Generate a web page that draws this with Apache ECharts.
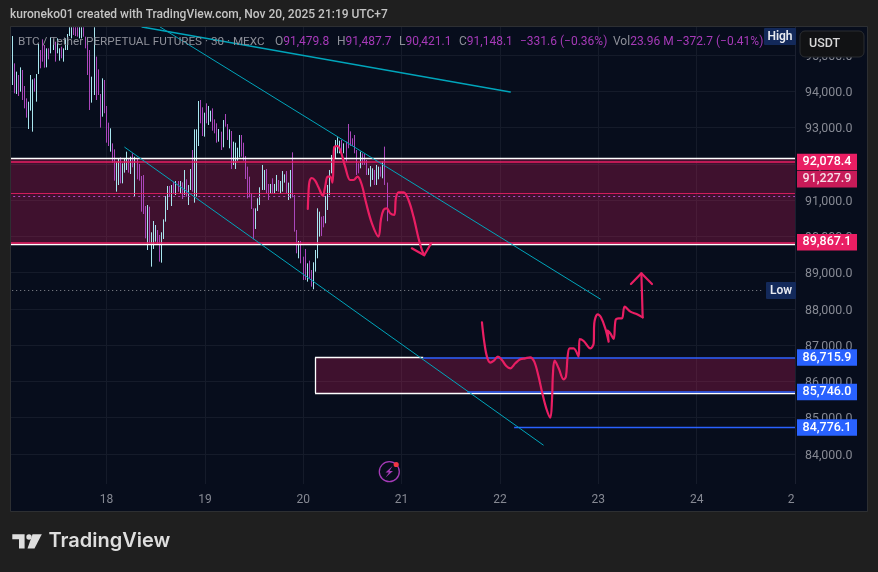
<!DOCTYPE html>
<html><head><meta charset="utf-8">
<style>html,body{margin:0;padding:0;background:#1f1f1f}#c{width:878px;height:572px}</style>
<script src="https://cdn.jsdelivr.net/npm/echarts@6/dist/echarts.min.js"></script>
</head><body><div id="c"></div>
<script>
// 30-minute bars, first bar one half hour into day 17
const firstBarDay = 17 + 1 / 48;
const barsPerDay = 48;
const highs = [94455,95530,94777,94547,94455,94666,94593,94151,93811,93719,94455,94335,94363,94482,95310,95144,95439,95282,95190,95190,95494,95439,95374,95466,95190,95236,95190,95466,95586,95770,95770,95770,95770,95770,95770,95770,95770,95512,95420,95144,94409,95770,94961,94611,93931,94363,94317,93600,93140,92984,92570,92404,92064,92156,92184,92018,92156,92340,92156,92202,92294,92202,92156,92000,91669,91696,90841,90869,90823,90115,90427,90317,90179,90041,90115,90473,91117,91393,91393,91420,91512,91531,91531,91531,91494,91834,91577,91420,91862,92386,92956,92956,93738,93765,93563,93416,93673,93600,93471,93535,93232,93122,92965,92892,93213,93379,93103,92956,92910,92616,92588,92450,92800,92800,92588,92220,91927,91651,91191,90777,90777,91053,91357,91973,91835,91862,91449,91449,91605,91449,91697,91559,91531,91807,91715,91807,91486,91835,92322,91145,90180,89876,89876,89444,89656,89260,89334,89076,89288,89628,90777,90686,90548,90566,91118,91421,91835,92249,92433,92662,92736,92644,92662,92570,92616,93104,92900,92708,92800,92387,92019,92341,92295,92276,92111,91881,91945,91881,91835,91973,91927,91927,92065,92479,91487.7];
const lows = [93692,94179,93949,93931,93876,93995,93765,93535,93278,92965,93471,92892,93995,93719,94482,94639,94823,94657,94666,94887,95052,95144,94823,95052,94850,94915,94823,95144,95144,95530,95466,95558,95530,95512,95466,95466,95512,95190,94455,93489,93692,93903,93765,93903,93002,93305,93400,92588,92496,92340,92036,91540,91237,91420,91466,91466,91761,91834,91761,91724,91908,91117,91577,91540,90685,90620,89949,89627,89811,89168,89655,89857,89765,89306,89278,89931,90409,90731,91099,90841,91190,91145,91236,91190,91034,91145,91099,90869,91282,91236,90933,91099,92496,93122,92772,92754,93122,93075,93167,92919,92846,92588,92616,92386,92460,93029,92662,92432,91862,91972,91862,92092,92184,92202,92092,91586,91053,91081,90759,89922,90207,90704,90869,91283,91283,91191,91007,91191,91191,91191,91256,91237,91191,91237,91486,91191,91007,91053,91081,90134,89536,89398,89260,88801,88801,88755,88847,88617,88543,89030,89398,89996,90014,90253,90364,90731,91145,91743,91743,92157,92295,92295,92295,92295,92065,92433,92500,92497,92295,91697,91743,91881,91973,91973,91697,91697,91375,91559,91421,91421,91577,91651,91605,91421,90421.1];
// 1 = rising bar (cyan), 0 = falling bar (purple)
const rising = [0,1,0,1,0,1,0,0,0,1,1,1,0,1,1,0,0,0,1,0,1,1,0,1,1,0,1,1,1,1,1,0,0,0,1,1,0,0,0,0,1,1,0,0,0,1,0,0,0,1,0,0,1,1,0,1,1,1,0,1,0,1,0,0,0,0,0,1,0,1,1,1,0,0,1,1,1,1,0,1,0,1,0,1,0,1,0,1,1,0,1,1,1,0,0,1,0,1,1,0,0,0,1,0,1,0,0,1,0,1,1,1,1,0,0,0,0,0,0,0,1,1,1,1,1,0,0,1,0,1,1,0,1,1,1,0,1,1,0,0,0,1,0,0,0,1,0,0,1,1,1,1,0,0,1,1,1,1,1,1,1,1,0,1,0,0,0,0,0,0,0,1,0,0,0,1,1,1,0,1,1,0,1,0,0];

// Horizontal levels
const zone1Top = 92157, zone1Bottom = 89785;
const zone2Top = 86662, zone2Bottom = 85683, zone2Start = 20.12;
const pinkLevels = [92055, 91192, 89840];
const pinkTags = ['92,078.4', '91,227.9', '89,867.1'];
const blueLevels = [86662, 85710, 84731];
const blueStarts = [21.22, 21.667, 22.144];
const blueTags = ['86,715.9', '85,746.0', '84,776.1'];
const lastPriceLevel = 91115;
const lowLevel = 88516;

// Trend lines [day, price]
const trendA = [[18.361, 95779], [22.105, 93986]];
const trendB = [[18.544, 95779], [23.02, 88276]];
const trendC = [[18.185, 92461], [22.44, 84248]];

// Hand-drawn paths [day, price]
const sketch1 = [[20.0465,90759],[20.053,91191],[20.063,91513],[20.087,91614],[20.121,91541],[20.155,91357],[20.199,91127],[20.223,91375],[20.247,91651],[20.274,91651],[20.297,91486],[20.308,92111],[20.314,92460],[20.348,92497],[20.382,92341],[20.426,91927],[20.477,91559],[20.511,91559],[20.552,91651],[20.596,91421],[20.64,90915],[20.698,90364],[20.765,89996],[20.789,90456],[20.816,90732],[20.85,90777],[20.884,90640],[20.925,90594],[20.942,91053],[20.969,91219],[21.02,91219],[21.07,91007],[21.121,90548],[21.172,89950],[21.206,89628],[21.23,89490]];
const arrow1 = [[21.104,89674],[21.23,89481],[21.301,89812]];
const sketch2 = [[21.817,87633],[21.84,87099],[21.868,86685],[21.901,86520],[21.935,86566],[21.979,86685],[22.02,86593],[22.064,86428],[22.105,86364],[22.156,86502],[22.207,86612],[22.257,86639],[22.308,86667],[22.349,86548],[22.393,86134],[22.427,85720],[22.471,85260],[22.512,85003],[22.529,85490],[22.539,86226],[22.556,86575],[22.597,86364],[22.647,86060],[22.671,86134],[22.688,86685],[22.709,86915],[22.749,86915],[22.8,86685],[22.81,87173],[22.851,87118],[22.919,86915],[22.953,87053],[22.959,87605],[22.993,87853],[23.027,87770],[23.071,87467],[23.105,87099],[23.095,87403],[23.122,87329],[23.156,87173],[23.176,87697],[23.207,87743],[23.241,87743],[23.268,88065],[23.326,87927],[23.394,87853],[23.451,87770]];
const shaft2 = [[23.451,87770],[23.444,88433],[23.438,88984]];
const arrow2 = [[23.332,88690],[23.438,88984],[23.546,88690]];

const dayTicks = [18, 19, 20, 21, 22, 23, 24, 25];
const titleText = 'kuroneko01 created with TradingView.com, Nov 20, 2025 21:19 UTC+7';
const symbolText = 'BTC / Tether PERPETUAL FUTURES · 30 · MEXC';
const ohlcKeys = ['O', 'H', 'L', 'C'];
const ohlcValues = ['91,479.8', '91,487.7', '90,421.1', '91,148.1'];
const changeText = '−331.6 (−0.36%)';
const volText = '23.96 M';
const volChangeText = '−372.7 (−0.41%)';

const PINK = '#e91e63', BLUE = '#2962ff', CYAN = '#00a5bb', UP = '#a8e6ef', DOWN = '#ab47bc';
const PANE = '#070d1c', PAGE = '#1f1f1f', GRIDC = '#151b2a', AXISC = '#868993';
const FONT = 'Roboto, sans-serif';

const bars = highs.map((h, i) => {
  const d = firstBarDay + i / barsPerDay, l = lows[i];
  return rising[i] ? [d, l, h, l, h] : [d, h, l, l, h];
});

function tagLabel(text, color, dy) {
  return { show: true, position: 'end', distance: 2, formatter: text, color: '#fff',
    backgroundColor: color, fontFamily: FONT, fontSize: 12.5, fontWeight: 500,
    width: 52, height: 12.5, lineHeight: 12.5, padding: [2, 4], align: 'center', offset: [30, dy || 0] };
}
const noLabel = { show: false };
const hline = (v, x0, x1, style, label) => [
  { coord: [x0, v], lineStyle: style, label: label || noLabel }, { coord: [x1, v] }];

const levelLines = [
  hline(zone1Top, 17, 25, { color: '#fff', width: 1.3, type: 'solid' }),
  hline(zone1Bottom, 17, 25, { color: '#fff', width: 1.3, type: 'solid' }),
  hline(pinkLevels[0], 17, 25, { color: PINK, width: 1.5, type: 'solid' }, tagLabel(pinkTags[0], PINK)),
  hline(pinkLevels[1], 17, 25, { color: PINK, width: 1, type: 'solid', opacity: .85 }, tagLabel(pinkTags[1], PINK, -14)),
  hline(pinkLevels[2], 17, 25, { color: PINK, width: 1.5, type: 'solid' }, tagLabel(pinkTags[2], PINK)),
  hline(lastPriceLevel, 17, 25, { color: DOWN, width: 1, type: [2, 3] }),
  hline(lowLevel, 17, 24.68, { color: '#8a8d94', width: 1, type: [1, 3] }),
  hline(zone2Top, zone2Start, blueStarts[0], { color: '#fff', width: 1.3, type: 'solid' }),
  hline(zone2Bottom, zone2Start, 25, { color: '#fff', width: 1.3, type: 'solid' }),
  hline(blueLevels[0], blueStarts[0], 25, { color: BLUE, width: 1.5, type: 'solid' }, tagLabel(blueTags[0], BLUE)),
  hline(blueLevels[1], blueStarts[1], 25, { color: BLUE, width: 1.5, type: 'solid' }, tagLabel(blueTags[1], BLUE)),
  hline(blueLevels[2], blueStarts[2], 25, { color: BLUE, width: 1.3, type: 'solid' }, tagLabel(blueTags[2], BLUE)),
  [ { coord: [zone2Start, zone2Top], lineStyle: { color: '#fff', width: 1.3, type: 'solid' }, label: noLabel }, { coord: [zone2Start, zone2Bottom] } ]
];

const lineSeries = (data, color, width, smooth, z) => ({
  type: 'line', data, showSymbol: false, symbol: 'none', smooth: smooth ? 0.35 : false,
  lineStyle: { color, width, cap: 'round', join: 'round' }, silent: true, z, clip: true, animation: false
});

const legendRich = { s: { fill: '#8e9099', fontSize: 11.7, fontFamily: FONT }, g: { fill: '#8e9099', fontSize: 12, fontFamily: FONT }, p: { fill: '#a63ab8', fontSize: 12, fontFamily: FONT } };
const legendY = 36;
const legendText = (x, str) => ({ type: 'text', z: 60, silent: true, x, y: legendY, style: { text: str, rich: legendRich, fontSize: 12, fontFamily: FONT } });
const ohlcX = [275, 337, 399, 459];

const panelGraphics = [
  { type: 'rect', z: -10, silent: true, shape: { x: 11, y: 27, width: 856, height: 484 }, style: { fill: PANE } },
  { type: 'rect', z: 40, silent: true, shape: { x: 0, y: 20, width: 10, height: 500 }, style: { fill: PAGE } },
  { type: 'rect', z: 40, silent: true, shape: { x: 10, y: 484, width: 786, height: 8 }, style: { fill: PANE } },
  { type: 'rect', z: 41, silent: true, shape: { x: 10.5, y: 26.5, width: 857, height: 485 }, style: { fill: 'none', stroke: '#2d2f32', lineWidth: 1 } },
  { type: 'text', z: 60, silent: true, x: 10, y: 9, style: { text: titleText, fill: '#c4c4c4', font: '500 12px ' + FONT } },
  legendText(18, '{s|' + symbolText + '}'),
  ...ohlcKeys.map((k, i) => legendText(ohlcX[i], '{g|' + k + '}{p|' + ohlcValues[i] + '}')),
  legendText(520, '{p|' + changeText + '}'),
  legendText(613, '{g|Vol}{p|' + volText + '}'),
  legendText(676, '{p|' + volChangeText + '}'),
  { type: 'rect', z: 60, silent: true, shape: { x: 764, y: 28, width: 32, height: 17, r: 1 }, style: { fill: '#13295a' } },
  { type: 'text', z: 61, silent: true, x: 780, y: 36.5, style: { text: 'High', fill: '#e8eaf0', font: '600 12px ' + FONT, align: 'center', verticalAlign: 'middle' } },
  { type: 'rect', z: 60, silent: true, shape: { x: 766, y: 282, width: 30, height: 17, r: 1 }, style: { fill: '#13295a' } },
  { type: 'text', z: 61, silent: true, x: 781, y: 290.5, style: { text: 'Low', fill: '#e8eaf0', font: '600 12px ' + FONT, align: 'center', verticalAlign: 'middle' } },
  { type: 'rect', z: 60, silent: true, shape: { x: 800, y: 31, width: 64, height: 26, r: 5 }, style: { fill: '#111214', stroke: '#2b2d31', lineWidth: 1 } },
  { type: 'text', z: 61, silent: true, x: 809, y: 44, style: { text: 'USDT', fill: '#d8d8d8', font: '500 12.5px ' + FONT, verticalAlign: 'middle' } },
  { type: 'circle', z: 60, silent: true, shape: { cx: 389.3, cy: 471.7, r: 10 }, style: { fill: 'none', stroke: '#a53bb8', lineWidth: 1.3 } },
  { type: 'polygon', z: 60, silent: true, shape: { points: [[392.5,466],[385.5,472.5],[389,472.5],[385.5,477.5],[393,471],[389.5,471]] }, style: { fill: '#a53bb8' } },
  { type: 'circle', z: 61, silent: true, shape: { cx: 396.2, cy: 464.5, r: 2.6 }, style: { fill: '#f23645' } },
  { type: 'polygon', z: 60, silent: true, shape: { points: [[12.3,534.3],[24.6,534.3],[24.6,548.4],[19,548.4],[19,539.3],[12.3,539.3]] }, style: { fill: '#dedede' } },
  { type: 'circle', z: 60, silent: true, shape: { cx: 29, cy: 537, r: 2.7 }, style: { fill: '#dedede' } },
  { type: 'polygon', z: 60, silent: true, shape: { points: [[32.5,534.3],[41.8,534.3],[34.5,548.4],[27.5,548.4]] }, style: { fill: '#dedede' } },
  { type: 'text', z: 60, silent: true, x: 48.5, y: 530.5, style: { text: 'TradingView', fill: '#dedede', font: '600 20px Inter, ' + FONT } }
];

const chart = echarts.init(document.getElementById('c'), null, { renderer: 'canvas' });
chart.setOption({
  animation: false,
  backgroundColor: PAGE,
  graphic: { elements: panelGraphics },
  grid: { left: 8.2, right: 83, top: 27, bottom: 81.75, containLabel: false },
  xAxis: {
    type: 'value', min: 17, max: 25, interval: 1,
    axisLine: { show: false }, axisTick: { show: false },
    splitLine: { show: true, showMinLine: false, showMaxLine: false, lineStyle: { color: GRIDC, width: 1 } },
    axisLabel: { color: AXISC, fontSize: 12, fontFamily: FONT, margin: 4, showMinLabel: false, showMaxLabel: true,
      formatter: v => dayTicks.includes(v) ? (v === 25 ? '{c|2}' : String(v)) : '',
      rich: { c: { color: AXISC, fontSize: 12, fontFamily: FONT, padding: [0, 8, 0, 0] } } }
  },
  yAxis: {
    type: 'value', position: 'right', min: 83000, max: 95779, interval: 1000,
    axisLine: { show: true, lineStyle: { color: '#1b2030' } }, axisTick: { show: false },
    splitLine: { show: true, showMinLine: false, showMaxLine: false, lineStyle: { color: GRIDC, width: 1 } },
    axisLabel: { color: AXISC, fontSize: 12.4, fontFamily: FONT, margin: 10, showMinLabel: false, showMaxLabel: false,
      formatter: v => '{a|' + v.toLocaleString('en-US', { minimumFractionDigits: 1, maximumFractionDigits: 1 }) + '}',
      rich: { a: { color: AXISC, fontSize: 12.4, fontFamily: FONT, padding: [3, 0, 0, 0] } } }
  },
  tooltip: { show: false },
  series: [
    { type: 'candlestick', name: 'BTC', data: bars, barWidth: 0, clip: true, z: 4, silent: true,
      encode: { x: 0, y: [1, 2, 3, 4] },
      itemStyle: { color: UP, color0: DOWN, borderColor: UP, borderColor0: DOWN, borderWidth: 1 } },
    { type: 'line', data: [], silent: true, z: 3, clip: true,
      markArea: { silent: true, z: 1, itemStyle: { color: 'rgba(233,30,99,0.25)' },
        data: [ [ { coord: [17, zone1Top] }, { coord: [25, zone1Bottom] } ],
                [ { coord: [zone2Start, zone2Top] }, { coord: [25, zone2Bottom] } ] ] },
      markLine: { silent: true, symbol: 'none', animation: false, z: 5, precision: 1, data: levelLines } },
    lineSeries(trendA, CYAN, 1.3, false, 6),
    lineSeries(trendB, CYAN, 1, false, 6),
    lineSeries(trendC, CYAN, 1, false, 6),
    lineSeries(sketch1, PINK, 2.2, true, 7),
    lineSeries(arrow1, PINK, 2.2, false, 7),
    lineSeries(sketch2, PINK, 2.2, true, 7),
    lineSeries(shaft2, PINK, 2.2, false, 7),
    lineSeries(arrow2, PINK, 2.2, false, 7)
  ]
});
</script></body></html>
